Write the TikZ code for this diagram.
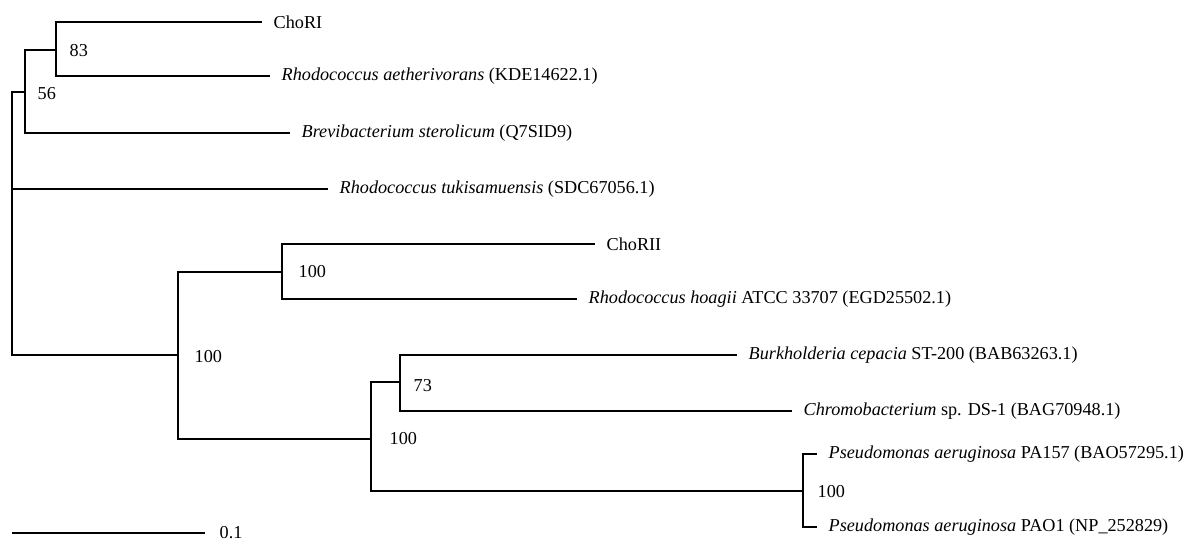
\documentclass[tikz,border=0pt]{standalone}
\usepackage{fontspec}
\setmainfont{Liberation Serif}
\tikzset{
  branch/.style={to path={|- (\tikztotarget)}},
  leaf/.style={anchor=west, inner xsep=5.5pt, inner ysep=0pt},
  boot/.style={anchor=west, inner sep=0pt},
}
\begin{document}
\begin{tikzpicture}[line width=0.7pt, font=\fontsize{9.1}{10.5}\selectfont]
    \def\x{0.5pt}
    \def\y{-0.5pt}
    \useasboundingbox (0,0) rectangle (1196*\x, 541*\y);
    % inner nodes
    \coordinate (I0) at (12*\x, 189*\y);
    \coordinate (I1) at (25*\x, 92*\y);
    \coordinate (I2) at (56*\x, 50*\y);
    \coordinate (I3) at (178*\x, 355*\y);
    \coordinate (I4) at (282*\x, 272*\y);
    \coordinate (I5) at (371*\x, 439*\y);
    \coordinate (I6) at (400*\x, 382*\y);
    \coordinate (I7) at (803*\x, 491*\y);
    % leaves
    \node[leaf] (L0) at (262*\x, 22*\y) {ChoRI};
    \node[leaf] (L1) at (270*\x, 76*\y) {\textit{Rhodococcus aetherivorans} (KDE14622.1)};
    \node[leaf] (L2) at (290*\x, 133*\y) {\textit{Brevibacterium sterolicum} (Q7SID9)};
    \node[leaf] (L3) at (328*\x, 189*\y) {\textit{Rhodococcus tukisamuensis} (SDC67056.1)};
    \node[leaf] (L4) at (595*\x, 244*\y) {ChoRII};
    \node[leaf] (L5) at (577*\x, 299*\y) {\textit{Rhodococcus hoagii} ATCC 33707 (EGD25502.1)};
    \node[leaf] (L6) at (737*\x, 355*\y) {\textit{Burkholderia cepacia} ST-200 (BAB63263.1)};
    \node[leaf] (L7) at (792*\x, 411*\y) {\textit{Chromobacterium} sp. DS-1 (BAG70948.1)};
    \node[leaf] (L8) at (817*\x, 454*\y) {\textit{Pseudomonas aeruginosa} PA157 (BAO57295.1)};
    \node[leaf] (L9) at (817*\x, 527*\y) {\textit{Pseudomonas aeruginosa} PAO1 (NP\_252829)};
    % branches
    \path (I0) edge [branch] (I1);
    \path (I0) edge [branch] (L3.west);
    \path (I0) edge [branch] (I3);
    \path (I1) edge [branch] (I2);
    \path (I1) edge [branch] (L2.west);
    \path (I2) edge [branch] (L0.west);
    \path (I2) edge [branch] (L1.west);
    \path (I3) edge [branch] (I4);
    \path (I3) edge [branch] (I5);
    \path (I4) edge [branch] (L4.west);
    \path (I4) edge [branch] (L5.west);
    \path (I5) edge [branch] (I6);
    \path (I5) edge [branch] (I7);
    \path (I6) edge [branch] (L6.west);
    \path (I6) edge [branch] (L7.west);
    \path (I7) edge [branch] (L8.west);
    \path (I7) edge [branch] (L9.west);
    % bootstrap values
    \node[boot] (B0) at (69*\x, 51*\y) {83};
    \node[boot] (B1) at (37*\x, 94*\y) {56};
    \node[boot] (B2) at (194*\x, 357*\y) {100};
    \node[boot] (B3) at (298*\x, 272*\y) {100};
    \node[boot] (B4) at (413*\x, 386*\y) {73};
    \node[boot] (B5) at (389*\x, 439*\y) {100};
    \node[boot] (B6) at (817*\x, 492*\y) {100};
    % scale bar
    \coordinate (S0) at (12*\x, 533*\y);
    \coordinate (S1) at (205*\x, 533*\y);
    \path (S0) edge (S1);
    \node[anchor=west, inner xsep=7pt] (S2) at (S1) {0.1};
  \end{tikzpicture}
\end{document}
